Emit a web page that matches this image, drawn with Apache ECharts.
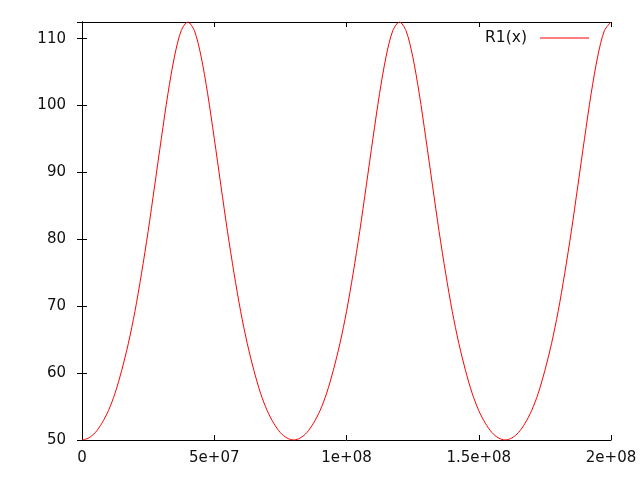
<!DOCTYPE html>
<html>
<head>
<meta charset="utf-8">
<script src="https://cdn.jsdelivr.net/npm/echarts@6/dist/echarts.min.js"></script>
<style>html,body{margin:0;padding:0;background:#fff;}#c{width:640px;height:480px;}</style>
</head>
<body>
<div id="c"></div>
<script>
var seriesName = 'R1(x)';
var xs = [
  0, 2.5e6, 5e6, 7.5e6, 1e7, 1.25e7, 1.5e7, 1.75e7, 2e7, 2.25e7, 2.5e7, 2.75e7, 3e7, 3.25e7, 3.5e7, 3.75e7,
  4e7, 4.25e7, 4.5e7, 4.75e7, 5e7, 5.25e7, 5.5e7, 5.75e7, 6e7, 6.25e7, 6.5e7, 6.75e7, 7e7, 7.25e7, 7.5e7, 7.75e7,
  8e7, 8.25e7, 8.5e7, 8.75e7, 9e7, 9.25e7, 9.5e7, 9.75e7, 1e8, 1.025e8, 1.05e8, 1.075e8, 1.1e8, 1.125e8, 1.15e8, 1.175e8,
  1.2e8, 1.225e8, 1.25e8, 1.275e8, 1.3e8, 1.325e8, 1.35e8, 1.375e8, 1.4e8, 1.425e8, 1.45e8, 1.475e8, 1.5e8, 1.525e8, 1.55e8, 1.575e8,
  1.6e8, 1.625e8, 1.65e8, 1.675e8, 1.7e8, 1.725e8, 1.75e8, 1.775e8, 1.8e8, 1.825e8, 1.85e8, 1.875e8, 1.9e8, 1.925e8, 1.95e8, 1.975e8,
  2e8
];
var r1 = [
  50.0, 50.3, 51.1, 52.5, 54.4, 57.0, 60.4, 64.4, 69.2, 74.9, 81.2, 88.1, 95.1, 101.8, 107.4, 111.2,
  112.5, 111.2, 107.4, 101.8, 95.1, 88.1, 81.2, 74.9, 69.2, 64.4, 60.4, 57.0, 54.4, 52.5, 51.1, 50.3,
  50.0, 50.3, 51.1, 52.5, 54.4, 57.0, 60.4, 64.4, 69.2, 74.9, 81.2, 88.1, 95.1, 101.8, 107.4, 111.2,
  112.5, 111.2, 107.4, 101.8, 95.1, 88.1, 81.2, 74.9, 69.2, 64.4, 60.4, 57.0, 54.4, 52.5, 51.1, 50.3,
  50.0, 50.3, 51.1, 52.5, 54.4, 57.0, 60.4, 64.4, 69.2, 74.9, 81.2, 88.1, 95.1, 101.8, 107.4, 111.2,
  112.5
];
var xMin = 0, xMax = 2e8, xStep = 5e7;
var yMin = 50, yMax = 112.5, yStep = 10;

var data = xs.map(function (x, i) { return [x, r1[i]]; });

function expFmt(v) {
  if (v === 0) return '0';
  var s = v.toExponential();
  return s.replace(/e([+-])(\d)$/, 'e$10$2');
}
function yFmt(v) {
  return (Math.abs(v % 10) < 1e-9) ? String(v) : '';
}
var font = 'DejaVu Sans';
var lbl = { color: '#111', fontFamily: font, fontSize: 15 };
var axisLineStyle = { show: true, lineStyle: { color: '#000', width: 1 } };
var tick = { show: true, inside: true, length: 5, lineStyle: { color: '#000', width: 1 } };

var chart = echarts.init(document.getElementById('c'), null, { renderer: 'canvas' });
chart.setOption({
  animation: false,
  backgroundColor: '#fff',
  grid: { left: 82, right: 29, top: 22, bottom: 40, show: false },
  legend: {
    data: [seriesName],
    right: 46, top: 25,
    align: 'right',
    itemWidth: 49, itemHeight: 16,
    textStyle: { fontFamily: font, fontSize: 15.5, color: '#111', padding: [0, 8, 0, 0] },
    icon: 'path://M0,8L49,8L49,9L0,9Z'
  },
  xAxis: [
    { type: 'value', min: xMin, max: xMax, interval: xStep, position: 'bottom',
      axisLine: axisLineStyle, axisTick: tick, splitLine: { show: false },
      axisLabel: Object.assign({ margin: 11, formatter: expFmt }, lbl) },
    { type: 'value', min: xMin, max: xMax, interval: xStep, position: 'top',
      axisLine: axisLineStyle, axisTick: tick, splitLine: { show: false },
      axisLabel: { show: false } }
  ],
  yAxis: [
    { type: 'value', min: yMin, max: yMax, interval: yStep, position: 'left',
      axisLine: axisLineStyle, axisTick: tick, splitLine: { show: false },
      axisLabel: Object.assign({ margin: 16, formatter: yFmt }, lbl) },
    { type: 'value', min: yMin, max: yMax, interval: yStep, position: 'right',
      axisLine: axisLineStyle, axisTick: tick, splitLine: { show: false },
      axisLabel: { show: false } }
  ],
  series: [{
    name: seriesName,
    type: 'line',
    data: data,
    xAxisIndex: 0, yAxisIndex: 0,
    symbol: 'none',
    smooth: 0.3,
    clip: true,
    lineStyle: { color: '#ff0000', width: 1 },
    itemStyle: { color: '#ff0000' }
  }]
});
</script>
</body>
</html>
